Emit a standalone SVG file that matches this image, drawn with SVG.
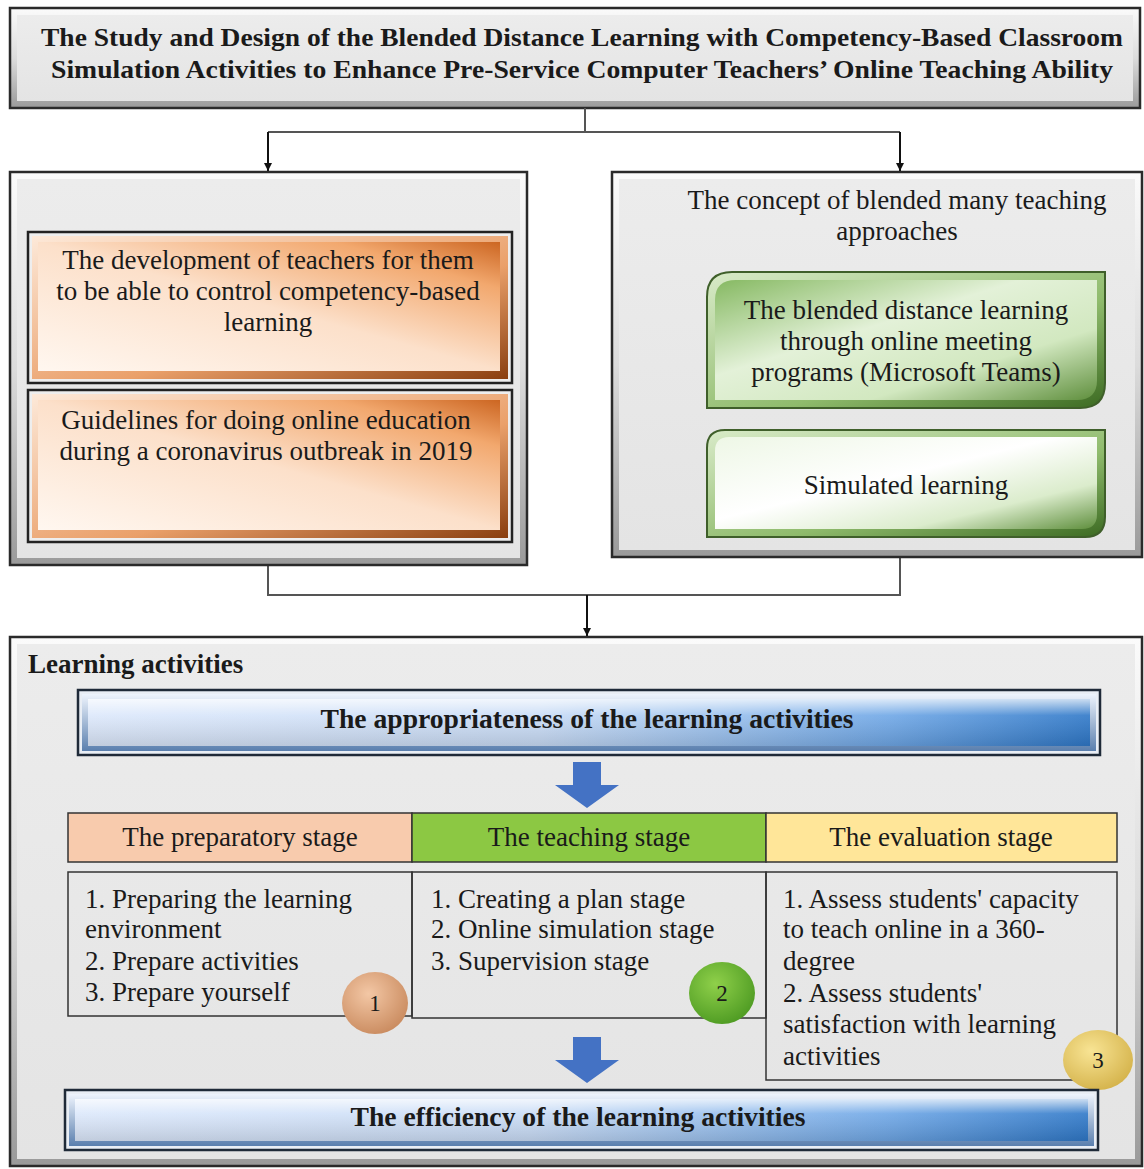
<svg xmlns="http://www.w3.org/2000/svg" width="1144" height="1169" viewBox="0 0 1144 1169">
<defs>
<linearGradient id="greyEdge" x1="0" y1="0" x2="0" y2="1"><stop offset="0" stop-color="#fbfbfb"/><stop offset="0.5" stop-color="#dcdcdc"/><stop offset="1" stop-color="#9a9a9a"/></linearGradient>
<linearGradient id="greyFace" x1="0" y1="0" x2="0" y2="1"><stop offset="0" stop-color="#ececec"/><stop offset="1" stop-color="#e4e4e4"/></linearGradient>
<linearGradient id="orangeFace" x1="0" y1="1" x2="1" y2="0"><stop offset="0" stop-color="#fff7f0"/><stop offset="0.5" stop-color="#fce0ca"/><stop offset="0.82" stop-color="#f2a86e"/><stop offset="1" stop-color="#cc6622"/></linearGradient>
<linearGradient id="orangeEdge" x1="0" y1="0" x2="1" y2="1"><stop offset="0" stop-color="#fde9d9"/><stop offset="0.6" stop-color="#eaa06a"/><stop offset="1" stop-color="#8a3f10"/></linearGradient>
<linearGradient id="greenFace1" x1="0" y1="0" x2="1" y2="1"><stop offset="0" stop-color="#86b962"/><stop offset="0.4" stop-color="#e3f1d8"/><stop offset="0.7" stop-color="#d2e8c0"/><stop offset="1" stop-color="#5f8f3d"/></linearGradient>
<linearGradient id="greenFace2" x1="0" y1="0" x2="1" y2="1"><stop offset="0" stop-color="#eef7e6"/><stop offset="0.45" stop-color="#ffffff"/><stop offset="0.75" stop-color="#dbeccc"/><stop offset="1" stop-color="#5f8f3d"/></linearGradient>
<linearGradient id="greenEdge" x1="0" y1="0" x2="1" y2="1"><stop offset="0" stop-color="#d9ebc9"/><stop offset="0.6" stop-color="#8fbb6c"/><stop offset="1" stop-color="#3c6a22"/></linearGradient>
<linearGradient id="blueFace" x1="0" y1="0" x2="1" y2="0"><stop offset="0" stop-color="#dce8fb"/><stop offset="0.45" stop-color="#c9dcf6"/><stop offset="0.8" stop-color="#6fa7e6"/><stop offset="1" stop-color="#2f78c8"/></linearGradient>
<linearGradient id="blueGloss" x1="0" y1="0" x2="0" y2="1"><stop offset="0" stop-color="#ffffff" stop-opacity="0.75"/><stop offset="0.35" stop-color="#ffffff" stop-opacity="0.1"/><stop offset="1" stop-color="#000000" stop-opacity="0.12"/></linearGradient>
<linearGradient id="blueEdge" x1="0" y1="0" x2="0" y2="1"><stop offset="0" stop-color="#eef4fd"/><stop offset="1" stop-color="#5a7fae"/></linearGradient>
<radialGradient id="c1" cx="0.4" cy="0.35" r="0.7"><stop offset="0" stop-color="#f3c7a5"/><stop offset="1" stop-color="#c98a5e"/></radialGradient>
<radialGradient id="c2" cx="0.4" cy="0.35" r="0.7"><stop offset="0" stop-color="#8fd04a"/><stop offset="1" stop-color="#4d9a22"/></radialGradient>
<radialGradient id="c3" cx="0.4" cy="0.35" r="0.7"><stop offset="0" stop-color="#f8e494"/><stop offset="1" stop-color="#d4b24a"/></radialGradient>
<marker id="arr" viewBox="0 0 10 10" refX="10" refY="5" markerWidth="8" markerHeight="8" markerUnits="userSpaceOnUse" orient="auto"><path d="M0,0 L10,5 L0,10 z" fill="#111"/></marker>
</defs>
<style>
.t{font-family:"Liberation Serif","Times New Roman",serif;fill:#1a1a1a;}
.c{text-anchor:middle;}
.b{font-weight:bold;}
.n{font-size:27px;}
.frame{stroke:#2a2a2a;stroke-width:2.5;}
.cell{stroke:#333;stroke-width:1.5;}
.conn{fill:none;stroke:#555;stroke-width:2;}
.conn2{fill:none;stroke:#111;stroke-width:2;}
.blk{fill:#4472c4;}
</style>
<rect width="1144" height="1169" fill="#ffffff"/>

<g id="title">
<rect class="frame" x="10" y="8" width="1130" height="100" fill="url(#greyEdge)"/>
<rect x="17" y="15" width="1116" height="86" fill="url(#greyFace)"/>
<text class="t b c" x="582" y="46" font-size="25" textLength="1082" lengthAdjust="spacingAndGlyphs">The Study and Design of the Blended Distance Learning with Competency-Based Classroom</text>
<text class="t b c" x="582" y="78" font-size="25" textLength="1062" lengthAdjust="spacingAndGlyphs">Simulation Activities to Enhance Pre-Service Computer Teachers’ Online Teaching Ability</text>
</g>

<g id="connectors">
<path class="conn" d="M585,108 V132"/>
<path class="conn" d="M268,132 H900"/>
<path class="conn2" d="M268,132 V171" marker-end="url(#arr)"/>
<path class="conn2" d="M900,132 V171" marker-end="url(#arr)"/>
<path class="conn" d="M268,565 V595 H900 V557"/>
<path class="conn2" d="M587,595 V636" marker-end="url(#arr)"/>
</g>

<g id="left-group">
<rect class="frame" x="10" y="172" width="517" height="393" fill="url(#greyEdge)"/>
<rect x="17" y="179" width="503" height="379" fill="url(#greyFace)"/>
</g>

<g id="node-development">
<rect x="28" y="232" width="484" height="151" fill="#eeeeee" stroke="#222" stroke-width="2.5"/>
<rect x="32" y="236" width="476" height="143" fill="url(#orangeEdge)"/>
<rect x="38" y="242" width="462" height="129" fill="url(#orangeFace)"/>
<text class="t n c" x="268" y="269">The development of teachers for them</text>
<text class="t n c" x="268" y="300">to be able to control competency-based</text>
<text class="t n c" x="268" y="331">learning</text>
</g>

<g id="node-guidelines">
<rect x="28" y="390" width="484" height="152" fill="#eeeeee" stroke="#222" stroke-width="2.5"/>
<rect x="32" y="394" width="476" height="144" fill="url(#orangeEdge)"/>
<rect x="38" y="400" width="462" height="130" fill="url(#orangeFace)"/>
<text class="t n c" x="266" y="429">Guidelines  for doing online education</text>
<text class="t n c" x="266" y="460">during a coronavirus outbreak in 2019</text>
</g>

<g id="right-group">
<rect class="frame" x="612" y="172" width="530" height="385" fill="url(#greyEdge)"/>
<rect x="619" y="179" width="516" height="371" fill="url(#greyFace)"/>
<text class="t n c" x="897" y="209">The concept of blended many teaching</text>
<text class="t n c" x="897" y="240">approaches</text>
</g>

<g id="node-blended">
<path d="M732,272 H1105 V383 Q1105,408 1080,408 H707 V297 Q707,272 732,272 Z" fill="url(#greenEdge)" stroke="#3f5f2a" stroke-width="2"/>
<path d="M736,280 H1097 V380 Q1097,400 1077,400 H715 V300 Q715,280 736,280 Z" fill="url(#greenFace1)"/>
<text class="t n c" x="906" y="319">The blended  distance learning</text>
<text class="t n c" x="906" y="350">through online  meeting</text>
<text class="t n c" x="906" y="381">programs (Microsoft Teams)</text>
</g>

<g id="node-simulated">
<path d="M725,430 H1105 V517 Q1105,537 1085,537 H707 V448 Q707,430 725,430 Z" fill="url(#greenEdge)" stroke="#3f5f2a" stroke-width="2"/>
<path d="M729,437 H1097 V514 Q1097,529 1082,529 H715 V451 Q715,437 729,437 Z" fill="url(#greenFace2)"/>
<text class="t n c" x="906" y="494">Simulated  learning</text>
</g>

<g id="learning-activities">
<rect class="frame" x="10" y="637" width="1132" height="529" fill="url(#greyEdge)"/>
<rect x="17" y="644" width="1118" height="515" fill="url(#greyFace)"/>
<text class="t b n" x="28" y="673">Learning activities</text>
</g>

<g id="node-appropriateness">
<rect x="78" y="690" width="1022" height="65" fill="#e9eef5" stroke="#1f2a38" stroke-width="2.5"/>
<rect x="82" y="694" width="1014" height="57" fill="url(#blueEdge)"/>
<rect x="88" y="699" width="1002" height="47" fill="url(#blueFace)"/>
<rect x="88" y="699" width="1002" height="47" fill="url(#blueGloss)"/>
<text class="t b n c" x="587" y="728" textLength="533" lengthAdjust="spacingAndGlyphs">The appropriateness of the learning activities</text>
</g>

<g id="arrow-1">
<polygon class="blk" points="573,762 601,762 601,785 619,785 587,808 555,785 573,785"/>
</g>

<g id="node-preparatory">
<rect class="cell" x="68" y="813" width="344" height="49" fill="#f8cbad"/>
<text class="t n c" x="240" y="846">The preparatory stage</text>
<rect class="cell" x="68" y="872" width="344" height="144" fill="none"/>
<text class="t n" x="85" y="908">1. Preparing the learning</text>
<text class="t n" x="85" y="938">environment</text>
<text class="t n" x="85" y="970">2. Prepare activities</text>
<text class="t n" x="85" y="1001">3. Prepare yourself</text>
</g>

<g id="node-teaching">
<rect class="cell" x="412" y="813" width="354" height="49" fill="#8cc843"/>
<text class="t n c" x="589" y="846">The teaching stage</text>
<rect class="cell" x="412" y="872" width="354" height="146" fill="none"/>
<text class="t n" x="431" y="908">1. Creating a plan  stage</text>
<text class="t n" x="431" y="938">2. Online  simulation  stage</text>
<text class="t n" x="431" y="970">3. Supervision stage</text>
</g>

<g id="node-evaluation">
<rect class="cell" x="766" y="813" width="351" height="49" fill="#ffe699"/>
<text class="t n c" x="941" y="846">The evaluation  stage</text>
<rect class="cell" x="766" y="872" width="351" height="208" fill="none"/>
<text class="t n" x="783" y="908">1. Assess students' capacity</text>
<text class="t n" x="783" y="938">to teach online in a 360-</text>
<text class="t n" x="783" y="970">degree</text>
<text class="t n" x="783" y="1002">2. Assess students'</text>
<text class="t n" x="783" y="1033">satisfaction with learning</text>
<text class="t n" x="783" y="1065">activities</text>
</g>

<g id="badge-1">
<ellipse cx="375" cy="1003" rx="33" ry="31" fill="url(#c1)"/>
<text class="t c" x="375" y="1011" font-size="23">1</text>
</g>
<g id="badge-2">
<ellipse cx="722" cy="993" rx="33" ry="31" fill="url(#c2)"/>
<text class="t c" x="722" y="1001" font-size="23">2</text>
</g>
<g id="badge-3">
<ellipse cx="1098" cy="1060" rx="35" ry="30" fill="url(#c3)"/>
<text class="t c" x="1098" y="1068" font-size="23">3</text>
</g>

<g id="arrow-2">
<polygon class="blk" points="573,1037 601,1037 601,1060 619,1060 587,1083 555,1060 573,1060"/>
</g>

<g id="node-efficiency">
<rect x="65" y="1090" width="1033" height="60" fill="#e9eef5" stroke="#1f2a38" stroke-width="2.5"/>
<rect x="69" y="1094" width="1025" height="52" fill="url(#blueEdge)"/>
<rect x="75" y="1099" width="1013" height="42" fill="url(#blueFace)"/>
<rect x="75" y="1099" width="1013" height="42" fill="url(#blueGloss)"/>
<text class="t b n c" x="578" y="1126" textLength="455" lengthAdjust="spacingAndGlyphs">The efficiency of the learning activities</text>
</g>
</svg>
